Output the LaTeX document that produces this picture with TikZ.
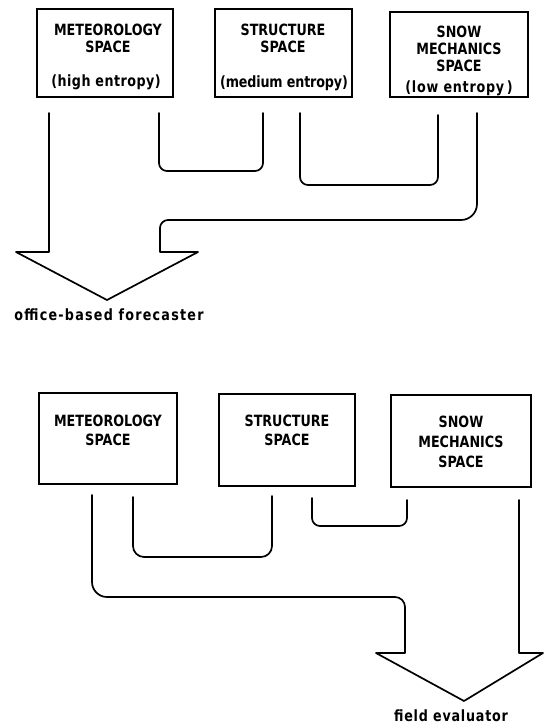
\documentclass[tikz,border=0pt]{standalone}
\usepackage{fontspec}
\setmainfont{DejaVu Sans}
\newfontfamily\lettering{DejaVu Sans}[FakeStretch=0.82]
\begin{document}
\begin{tikzpicture}[x=1pt,y=-1pt,
  box/.style={draw, line width=1.9pt, inner sep=0pt},
  caps/.style={inner sep=0pt, font=\lettering\bfseries\fontsize{15.5}{17}\selectfont},
  lower/.style={inner sep=0pt, font=\lettering\bfseries\fontsize{15.5}{17}\selectfont\addfontfeatures{LetterSpace=#1}},
  lower/.default=5,
  conn/.style={line width=1.7pt, line join=round, line cap=round},
  ucurve/.style={conn, rounded corners=#1},
  ucurve/.default=8pt]
\useasboundingbox (0,0) rectangle (544,726);

% ---------- upper diagram ----------
\node[box, minimum width=136pt, minimum height=88pt] (m1) at (105,53) {};
\node[box, minimum width=137pt, minimum height=88pt] (s1) at (283.5,53) {};
\node[box, minimum width=138pt, minimum height=85pt] (n1) at (459,54.5) {};

\node[caps] (m1a) at (108,30) {METEOROLOGY};
\node[caps] (m1b) at (108,47) {SPACE};
\node[lower=3] (m1c) at (106,82) {(high entropy)};
\node[caps] (s1a) at (283,30) {STRUCTURE};
\node[caps] (s1b) at (283,47) {SPACE};
\node[lower=-1] (s1c) at (284,83) {(medium entropy)};
\node[caps] (n1a) at (459,32) {SNOW};
\node[caps] (n1b) at (459,49) {MECHANICS};
\node[caps] (n1c) at (459,66) {SPACE};
\node[lower=5] (n1d) at (459,88) {(low entropy\,)};

\coordinate (ta) at (49,113);
\coordinate (tb) at (159,113);
\coordinate (tc) at (263,113);
\coordinate (td) at (300,113);
\coordinate (te) at (438,115);
\coordinate (tf) at (477,113);
\coordinate (tip1) at (107,300);

\draw[ucurve] (tb) -- (tb |- 0,171) -- (tc |- 0,171) -- (tc);
\draw[ucurve] (td) -- (td |- 0,185) -- (te |- 0,185) -- (te);
\draw[conn] (ta) -- (49,252) -- (16,252) -- (tip1) -- (198,252) -- (160,252)
  -- (160,228) arc[start angle=180, end angle=270, radius=8]
  -- (461,220) arc[start angle=90, end angle=0, radius=16] -- (tf);

\node[lower=8, anchor=north] (off) at (109,309) {office-based forecaster};

% ---------- lower diagram ----------
\node[box, minimum width=138pt, minimum height=91pt] (m2) at (108,438.5) {};
\node[box, minimum width=136pt, minimum height=92pt] (s2) at (287,440) {};
\node[box, minimum width=140pt, minimum height=92pt] (n2) at (461,441) {};

\node[caps] (m2a) at (108,421) {METEOROLOGY};
\node[caps] (m2b) at (108,440) {SPACE};
\node[caps] (s2a) at (287,421) {STRUCTURE};
\node[caps] (s2b) at (287,440) {SPACE};
\node[caps] (n2a) at (461,422) {SNOW};
\node[caps] (n2b) at (461,442) {MECHANICS};
\node[caps] (n2c) at (461,462) {SPACE};

\coordinate (ba) at (92,495);
\coordinate (bb) at (133,497);
\coordinate (bc) at (272,496);
\coordinate (bd) at (312,498);
\coordinate (be) at (407,500);
\coordinate (bf) at (519,500);
\coordinate (tip2) at (464,701);

\draw[ucurve=11pt] (bb) -- (bb |- 0,557) -- (bc |- 0,557) -- (bc);
\draw[ucurve] (bd) -- (bd |- 0,526) -- (be |- 0,526) -- (be);
\draw[conn] (ba) -- (92,582) arc[start angle=180, end angle=90, radius=15]
  -- (395,597) arc[start angle=270, end angle=360, radius=10]
  -- (405,653) -- (376,653) -- (tip2) -- (543,653) -- (519,653) -- (bf);

\node[lower=5, anchor=north] (fld) at (451,710) {field evaluator};
\end{tikzpicture}
\end{document}
